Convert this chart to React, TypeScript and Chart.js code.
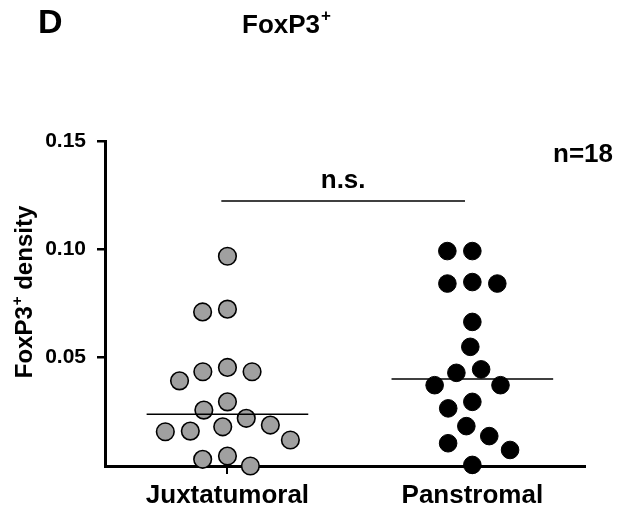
import React, { useEffect, useRef } from 'react';
import { Chart, registerables } from 'chart.js';

Chart.register(...registerables);

const categories = ['Juxtatumoral', 'Panstromal'];
const juxtatumoralValues = [
  0.0968, 0.0724, 0.0711, 0.0455, 0.0435, 0.0435, 0.0393, 0.0296, 0.0258,
  0.022, 0.0189, 0.0181, 0.0161, 0.0158, 0.012, 0.0046, 0.0031, 0.0,
];
const panstromalValues = [
  0.0992, 0.0992, 0.0849, 0.0842, 0.0842, 0.0665, 0.055, 0.0446, 0.043,
  0.0373, 0.0373, 0.0296, 0.0266, 0.0184, 0.0138, 0.0105, 0.0074, 0.0005,
];
const yTickValues = [0.05, 0.1, 0.15];
const yMax = 0.15;
const panelLetter = 'D';
const titleMain = 'FoxP3';
const titleSup = '+';
const yTitleMain = 'FoxP3';
const yTitleRest = ' density';
const nLabel = 'n=18';
const sigLabel = 'n.s.';
const sigY = 0.1223;

const FONT = 'Arial, "Liberation Sans", Helvetica, sans-serif';

// layout constants (pixels)
const W = 637;
const H = 520;
const AREA_LEFT = 105;
const AREA_RIGHT = 585;
const AREA_TOP = 141;
const AREA_BOTTOM = 466;
const X_MIN = -0.5;
const X_MAX = 1.46;
const PX_PER_X = (AREA_RIGHT - AREA_LEFT) / (X_MAX - X_MIN);
const PX_PER_Y = (AREA_BOTTOM - AREA_TOP) / yMax;
const DOT_R = 8.8;
const SWARM_D = 25;
const MEDIAN_HALF = 0.33;

function median(arr: number[]) {
  const s = [...arr].sort((a, b) => a - b);
  const m = s.length / 2;
  return s.length % 2 ? s[Math.floor(m)] : (s[m - 1] + s[m]) / 2;
}

function beeswarm(values: number[]): number[] {
  const order = values.map((_, i) => i).sort((a, b) => values[b] - values[a]);
  const placed: { x: number; y: number }[] = [];
  const out = new Array(values.length).fill(0);
  for (const i of order) {
    const y = values[i] * PX_PER_Y;
    const cands = [0];
    for (const p of placed) {
      const dy = Math.abs(p.y - y);
      if (dy < SWARM_D) {
        const dx = Math.sqrt(SWARM_D * SWARM_D - dy * dy);
        cands.push(p.x + dx, p.x - dx);
      }
    }
    cands.sort((a, b) => Math.abs(a) - Math.abs(b) || a - b);
    let chosen = 0;
    for (const c of cands) {
      const ok = placed.every(
        (p) => Math.hypot(p.x - c, p.y - y) >= SWARM_D - 1e-6
      );
      if (ok) {
        chosen = c;
        break;
      }
    }
    placed.push({ x: chosen, y });
    out[i] = chosen / PX_PER_X;
  }
  return out;
}

function swarmPoints(values: number[], center: number) {
  const offs = beeswarm(values);
  return values.map((v, i) => ({ x: center + offs[i], y: v }));
}

const textPlugin = {
  id: 'extraText',
  afterDraw(chart: any) {
    const ctx = chart.ctx;
    const xs = chart.scales.x;
    const ys = chart.scales.y;
    ctx.save();
    ctx.fillStyle = '#000';
    ctx.textBaseline = 'alphabetic';

    ctx.font = `bold 34px ${FONT}`;
    ctx.textAlign = 'left';
    ctx.fillText(panelLetter, 38, 33);

    ctx.font = `bold 26px ${FONT}`;
    ctx.fillText(titleMain, 242, 33);
    const tw = ctx.measureText(titleMain).width;
    ctx.font = `bold 17px ${FONT}`;
    ctx.fillText(titleSup, 242 + tw + 1, 21);

    ctx.font = `bold 26px ${FONT}`;
    ctx.textAlign = 'right';
    ctx.fillText(nLabel, 613, 162);

    ctx.textAlign = 'center';
    const midX = (xs.getPixelForValue(-0.025) + xs.getPixelForValue(0.97)) / 2;
    ctx.fillText(sigLabel, midX, ys.getPixelForValue(sigY) - 13);

    // y axis title
    ctx.translate(32, 292);
    ctx.rotate(-Math.PI / 2);
    ctx.font = `bold 24px ${FONT}`;
    const w1 = ctx.measureText(yTitleMain).width;
    ctx.font = `bold 15px ${FONT}`;
    const w2 = ctx.measureText(titleSup).width;
    ctx.font = `bold 24px ${FONT}`;
    const w3 = ctx.measureText(yTitleRest).width;
    const total = w1 + w2 + 1 + w3;
    let x0 = -total / 2;
    ctx.textAlign = 'left';
    ctx.fillText(yTitleMain, x0, 0);
    x0 += w1 + 1;
    ctx.font = `bold 15px ${FONT}`;
    ctx.fillText(titleSup, x0, -10);
    x0 += w2;
    ctx.font = `bold 24px ${FONT}`;
    ctx.fillText(yTitleRest, x0, 0);
    ctx.restore();
  },
};

export default function App() {
  const ref = useRef<HTMLCanvasElement | null>(null);
  useEffect(() => {
    if (!ref.current) return;
    const m1 = median(juxtatumoralValues);
    const m2 = median(panstromalValues);
    const lineStyle = {
      type: 'line' as const,
      borderColor: '#000',
      borderWidth: 1.5,
      pointRadius: 0,
      fill: false,
      clip: false as any,
    };
    const chart = new Chart(ref.current, {
      type: 'scatter',
      data: {
        datasets: [
          {
            ...lineStyle,
            label: 'median1',
            data: [
              { x: 0 - MEDIAN_HALF, y: m1 },
              { x: 0 + MEDIAN_HALF, y: m1 },
            ],
            order: 0,
          },
          {
            ...lineStyle,
            label: 'median2',
            data: [
              { x: 1 - MEDIAN_HALF, y: m2 },
              { x: 1 + MEDIAN_HALF, y: m2 },
            ],
            order: 0,
          },
          {
            ...lineStyle,
            label: 'bracket',
            data: [
              { x: -0.025, y: sigY },
              { x: 0.97, y: sigY },
            ],
            order: 0,
          },
          {
            label: categories[0],
            data: swarmPoints(juxtatumoralValues, 0),
            backgroundColor: '#a0a0a0',
            borderColor: '#000',
            borderWidth: 1.6,
            pointRadius: DOT_R,
            clip: false as any,
            order: 1,
          },
          {
            label: categories[1],
            data: swarmPoints(panstromalValues, 1),
            backgroundColor: '#000',
            borderColor: '#000',
            borderWidth: 1,
            pointRadius: DOT_R,
            clip: false as any,
            order: 1,
          },
        ],
      },
      options: {
        animation: false,
        responsive: false,
        maintainAspectRatio: false,
        layout: {
          padding: { left: 0, top: AREA_TOP, right: W - AREA_RIGHT, bottom: 0 },
        },
        plugins: {
          legend: { display: false },
          tooltip: { enabled: false },
          title: { display: false },
        },
        scales: {
          x: {
            type: 'linear',
            min: X_MIN,
            max: X_MAX,
            afterBuildTicks: (scale: any) => {
              scale.ticks = categories.map((_, i) => ({ value: i }));
            },
            afterFit: (scale: any) => {
              scale.height = H - AREA_BOTTOM;
            },
            ticks: {
              callback: (v: any) => categories[v as number] ?? '',
              color: '#000',
              font: { family: FONT, size: 26, weight: 'bold' },
              padding: 6,
              maxRotation: 0,
              autoSkip: false,
            },
            grid: {
              drawOnChartArea: false,
              drawTicks: true,
              tickLength: 8,
              color: '#000',
              lineWidth: 2,
            },
            border: { display: true, color: '#000', width: 3 },
          },
          y: {
            type: 'linear',
            min: 0,
            max: yMax,
            afterBuildTicks: (scale: any) => {
              scale.ticks = yTickValues.map((v) => ({ value: v }));
            },
            afterFit: (scale: any) => {
              scale.width = AREA_LEFT;
            },
            ticks: {
              callback: (v: any) => Number(v).toFixed(2),
              color: '#000',
              font: { family: FONT, size: 21, weight: 'bold' },
              padding: 11,
            },
            grid: {
              drawOnChartArea: false,
              drawTicks: true,
              tickLength: 8,
              color: '#000',
              lineWidth: 2.5,
            },
            border: { display: true, color: '#000', width: 3 },
          },
        },
      },
      plugins: [textPlugin],
    } as any);
    return () => chart.destroy();
  }, []);
  return (
    <div style={{ position: 'fixed', left: 0, top: 0, width: W, height: H, background: '#fff' }}>
      <canvas ref={ref} width={W} height={H} style={{ width: W, height: H, display: 'block' }} />
    </div>
  );
}
